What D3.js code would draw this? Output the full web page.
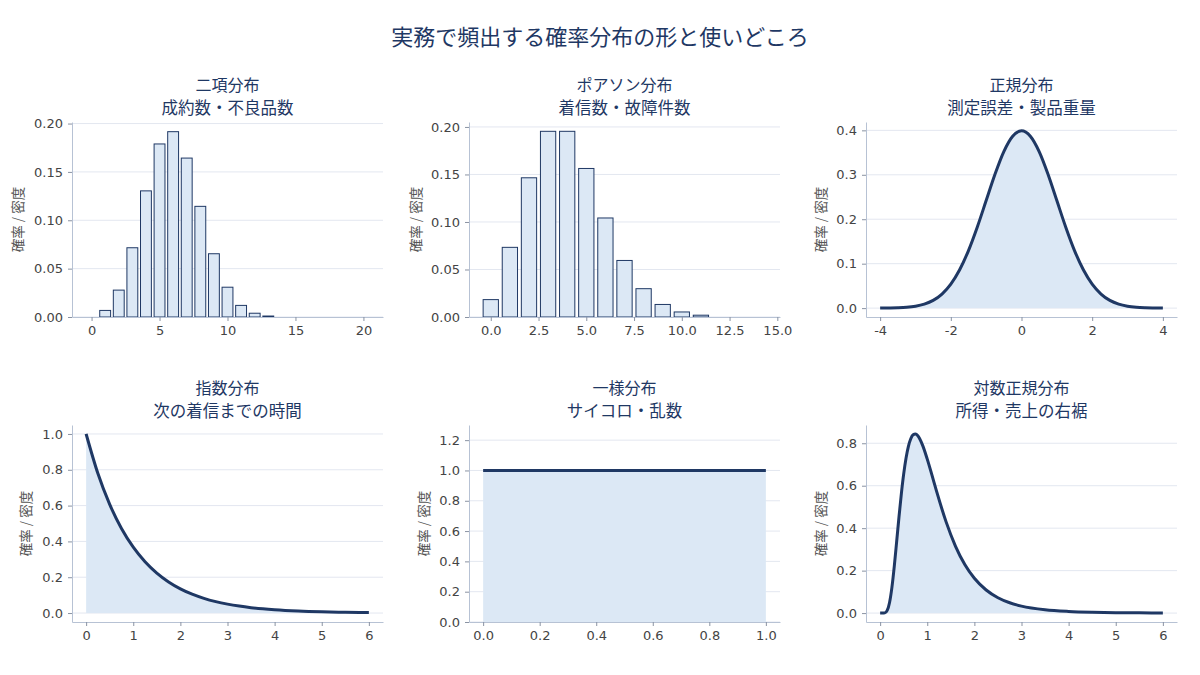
<!DOCTYPE html>
<html>
<head>
<meta charset="utf-8">
<script src="https://cdn.jsdelivr.net/npm/d3@7"></script>
<style>
  body { margin: 0; background: #fff; }
  svg { display: block; }
  .tick text { font-family: "DejaVu Sans", sans-serif; font-size: 13px; fill: #444; }
  .ttl { font-family: "Noto Sans CJK JP", sans-serif; fill: #1f3864; }
</style>
</head>
<body>
<div id="chart"></div>
<script>
// データ
const mainTitle = '実務で頻出する確率分布の形と使いどころ'
const panelNames = ['二項分布', 'ポアソン分布', '正規分布', '指数分布', '一様分布', '対数正規分布']
const panelUses = ['成約数・不良品数', '着信数・故障件数', '測定誤差・製品重量', '次の着信までの時間', 'サイコロ・乱数', '所得・売上の右裾']
const yLabel = '確率 / 密度'

// 二項分布
const binomK = [0, 1, 2, 3, 4, 5, 6, 7, 8, 9, 10, 11, 12, 13, 14, 15, 16, 17, 18, 19, 20]
const binomP = [0, 0.0068, 0.0278, 0.0716, 0.1304, 0.1789, 0.1916, 0.1643, 0.1144, 0.0654, 0.0308,
                0.0120, 0.0039, 0.0010, 0, 0, 0, 0, 0, 0, 0]
// ポアソン分布
const poisK = [0, 1, 2, 3, 4, 5, 6, 7, 8, 9, 10, 11, 12, 13, 14]
const poisP = [0.0183, 0.0733, 0.1465, 0.1954, 0.1954, 0.1563, 0.1042, 0.0595, 0.0298, 0.0132, 0.0053,
               0.0019, 0, 0, 0]
// 正規分布
const normX = [-4, -3.75, -3.5, -3.25, -3, -2.75, -2.5, -2.25, -2, -1.75, -1.5, -1.25, -1, -0.75, -0.5, -0.25,
               0, 0.25, 0.5, 0.75, 1, 1.25, 1.5, 1.75, 2, 2.25, 2.5, 2.75, 3, 3.25, 3.5, 3.75, 4]
const normY = [0.0001, 0.0004, 0.0009, 0.0020, 0.0044, 0.0091, 0.0175, 0.0317, 0.0540, 0.0863, 0.1295, 0.1826,
               0.2420, 0.3011, 0.3521, 0.3867, 0.3989, 0.3867, 0.3521, 0.3011, 0.2420, 0.1826, 0.1295, 0.0863,
               0.0540, 0.0317, 0.0175, 0.0091, 0.0044, 0.0020, 0.0009, 0.0004, 0.0001]
// 指数分布
const expX = [0, 0.25, 0.5, 0.75, 1, 1.25, 1.5, 1.75, 2, 2.25, 2.5, 2.75, 3, 3.25, 3.5, 3.75, 4, 4.5, 5, 5.5, 6]
const expY = [1, 0.7788, 0.6065, 0.4724, 0.3679, 0.2865, 0.2231, 0.1738, 0.1353, 0.1054, 0.0821, 0.0639,
              0.0498, 0.0388, 0.0302, 0.0235, 0.0183, 0.0111, 0.0067, 0.0041, 0.0025]
// 一様分布
const unifX = [0, 1]
const unifY = [1, 1]
// 対数正規分布
const lognX = [0, 0.05, 0.1, 0.15, 0.2, 0.25, 0.3, 0.35, 0.4, 0.45, 0.5, 0.55, 0.6, 0.65, 0.7, 0.75, 0.8, 0.9,
               1.0, 1.1, 1.2, 1.4, 1.6, 1.8, 2.0, 2.25, 2.5, 2.75, 3.0, 3.5, 4.0, 4.5, 5.0, 5.5, 6.0]
const lognY = [0, 0, 0.0011, 0.0126, 0.0501, 0.1211, 0.2202, 0.3353, 0.4526, 0.5619, 0.6557, 0.7305, 0.7854,
               0.8211, 0.8398, 0.8434, 0.8351, 0.7913, 0.7253, 0.6496, 0.5721, 0.4297, 0.3147, 0.2276, 0.1639,
               0.1087, 0.0724, 0.0486, 0.0329, 0.0155, 0.0076, 0.0038, 0.0020, 0.0011, 0.0006]

// 目盛り
const xTicks = [[0, 5, 10, 15, 20], [0, 2.5, 5, 7.5, 10, 12.5, 15], [-4, -2, 0, 2, 4],
                [0, 1, 2, 3, 4, 5, 6], [0, 0.2, 0.4, 0.6, 0.8, 1.0], [0, 1, 2, 3, 4, 5, 6]]
const yTicks = [[0, 0.05, 0.1, 0.15, 0.2], [0, 0.05, 0.1, 0.15, 0.2], [0, 0.1, 0.2, 0.3, 0.4],
                [0, 0.2, 0.4, 0.6, 0.8, 1.0], [0, 0.2, 0.4, 0.6, 0.8, 1.0, 1.2], [0, 0.2, 0.4, 0.6, 0.8]]

const W = 1200, H = 675
const navy = '#1f3864', light = '#dce8f5'
const colLeft = [72, 469, 866], pw = 311
const rowTop = [122, 425], rowBottom = [317, 622]

const panels = [
  { kind: 'bar', x: binomK, y: binomP, xd: [-1.44, 21.44], yd: [0, 0.2016], xf: d3.format('d'), yf: d3.format('.2f') },
  { kind: 'bar', x: poisK, y: poisP, xd: [-1.14, 15.14], yd: [0, 0.2052], xf: d3.format('.1f'), yf: d3.format('.2f') },
  { kind: 'line', x: normX, y: normY, xd: [-4.4, 4.4], yd: [-0.02, 0.4188], xf: d => String(d), yf: d3.format('.1f') },
  { kind: 'line', x: expX, y: expY, xd: [-0.3, 6.3], yd: [-0.05, 1.05], xf: d3.format('d'), yf: d3.format('.1f') },
  { kind: 'line', x: unifX, y: unifY, xd: [-0.05, 1.05], yd: [0, 1.3], xf: d3.format('.1f'), yf: d3.format('.1f') },
  { kind: 'line', x: lognX, y: lognY, xd: [-0.3, 6.3], yd: [-0.042, 0.886], xf: d3.format('d'), yf: d3.format('.1f') }
]

const svg = d3.select('#chart').append('svg')
  .attr('width', W)
  .attr('height', H)

svg.append('text')
  .attr('class', 'ttl')
  .attr('x', W / 2)
  .attr('y', 45)
  .attr('text-anchor', 'middle')
  .attr('font-size', 22)
  .text(mainTitle)

panels.forEach((p, i) => {
  const c = i % 3, r = Math.floor(i / 3)
  const x0 = colLeft[c], x1 = colLeft[c] + pw
  const y0 = rowTop[r], y1 = rowBottom[r]
  const x = d3.scaleLinear().domain(p.xd).range([x0, x1])
  const y = d3.scaleLinear().domain(p.yd).range([y1, y0])
  const g = svg.append('g')

  // グリッド
  g.selectAll('.grid')
    .data(yTicks[i])
    .enter()
    .append('line')
    .attr('x1', x0).attr('x2', x1)
    .attr('y1', d => y(d)).attr('y2', d => y(d))
    .attr('stroke', '#e3e7f0')
    .attr('stroke-width', 1)

  const pts = p.x.map((v, j) => ({ x: v, y: p.y[j] }))
  if (p.kind === 'bar') {
    g.selectAll('rect')
      .data(pts.filter(d => d.y > 0))
      .enter()
      .append('rect')
      .attr('x', d => x(d.x - 0.4))
      .attr('y', d => y(d.y))
      .attr('width', d => x(d.x + 0.4) - x(d.x - 0.4))
      .attr('height', d => y(0) - y(d.y))
      .attr('fill', light)
      .attr('stroke', navy)
      .attr('stroke-width', 1)
  } else {
    const area = d3.area().x(d => x(d.x)).y0(y(0)).y1(d => y(d.y)).curve(d3.curveMonotoneX)
    const line = d3.line().x(d => x(d.x)).y(d => y(d.y)).curve(d3.curveMonotoneX)
    g.append('path').attr('d', area(pts)).attr('fill', light)
    g.append('path').attr('d', line(pts))
      .attr('fill', 'none')
      .attr('stroke', navy)
      .attr('stroke-width', 3)
      .attr('stroke-linejoin', 'round')
  }

  // 軸
  const xa = g.append('g')
    .attr('transform', `translate(0,${y1})`)
    .call(d3.axisBottom(x).tickValues(xTicks[i]).tickFormat(p.xf).tickSize(4).tickPadding(5).tickSizeOuter(0))
  const ya = g.append('g')
    .attr('transform', `translate(${x0},0)`)
    .call(d3.axisLeft(y).tickValues(yTicks[i]).tickFormat(p.yf).tickSize(4).tickPadding(5).tickSizeOuter(0))
  ;[xa, ya].forEach(a => {
    a.select('.domain').attr('stroke', '#b7c2d4')
    a.selectAll('.tick line').attr('stroke', '#8a93a3')
  })

  // タイトル（2行）
  const cx = (x0 + x1) / 2
  g.append('text')
    .attr('class', 'ttl')
    .attr('x', cx).attr('y', y0 - 31)
    .attr('text-anchor', 'middle')
    .attr('font-size', 16)
    .text(panelNames[i])
  g.append('text')
    .attr('class', 'ttl')
    .attr('x', cx).attr('y', y0 - 8)
    .attr('text-anchor', 'middle')
    .attr('font-size', 16.5)
    .text(panelUses[i])

  // 縦軸ラベル
  const lx = [[17, 415, 820], [25, 423, 820]][r][c]
  g.append('text')
    .attr('transform', `translate(${lx},${(y0 + y1) / 2}) rotate(-90)`)
    .attr('text-anchor', 'middle')
    .attr('dominant-baseline', 'central')
    .attr('font-family', '"Noto Sans CJK JP", sans-serif')
    .attr('font-size', 13.5)
    .attr('fill', '#555')
    .text(yLabel)
})
</script>
</body>
</html>
